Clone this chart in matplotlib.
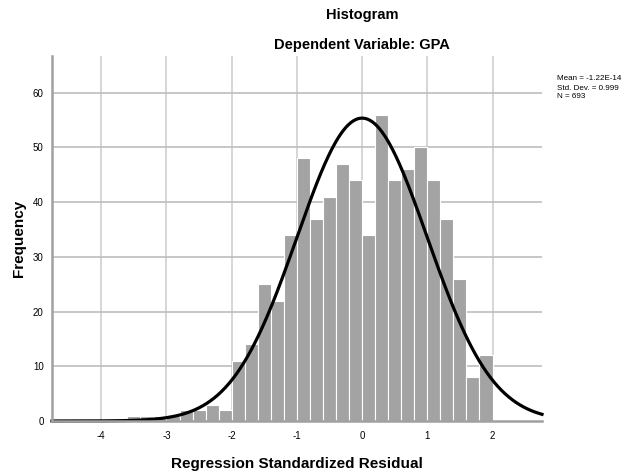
import numpy as np
import matplotlib
matplotlib.use('Agg')
import matplotlib.pyplot as plt

plt.rcParams['font.family'] = ['Liberation Sans', 'DejaVu Sans']
plt.rcParams['axes.unicode_minus'] = False

# residual histogram, bins of width 0.2 (left edges)
binLeft = [-3.6, -3.4, -3.2, -3.0, -2.8, -2.6, -2.4, -2.2,
           -2.0, -1.8, -1.6, -1.4, -1.2, -1.0, -0.8, -0.6, -0.4, -0.2,
           0.0, 0.2, 0.4, 0.6, 0.8, 1.0, 1.2, 1.4, 1.6, 1.8]
binCount = [1, 1, 1, 1, 2, 2, 3, 2,
            11, 14, 25, 22, 34, 48, 37, 41, 47, 44,
            34, 56, 44, 46, 50, 44, 37, 26, 8, 12]
binWidth = 0.2

# fitted normal stats
residMean = -1.22E-14
residSD = 0.999
residN = 693

xTicks = [-4, -3, -2, -1, 0, 1, 2]
yTicks = [0, 10, 20, 30, 40, 50, 60]

fig = plt.figure(figsize=(6.24, 4.76), dpi=100)
ax = fig.add_axes([52/624, 1 - 421/476, 490/624, 365/476])

ax.set_xlim(-4.756, 2.759)
ax.set_ylim(0, 66.7)

# grid behind everything
for xt in xTicks:
    ax.axvline(xt, color='#cfcfcf', lw=1.2, zorder=0)
for yt in yTicks[1:]:
    ax.axhline(yt, color='#bdbdbd', lw=1.2, zorder=0)

ax.bar(binLeft, binCount, width=binWidth, align='edge',
       color='#a3a3a3', edgecolor='white', linewidth=0.8, zorder=2)

# normal curve scaled to counts
xs = np.linspace(-4.756, 2.759, 400)
pdf = np.exp(-0.5 * ((xs - residMean) / residSD) ** 2) / (residSD * np.sqrt(2 * np.pi))
ax.plot(xs, pdf * residN * binWidth, color='black', lw=2.3, zorder=3, clip_on=False)

ax.set_xticks(xTicks)
ax.set_yticks(yTicks)
ax.tick_params(axis='both', length=0, labelsize=7)
ax.tick_params(axis='x', pad=7)
ax.tick_params(axis='y', pad=6)

for s in ['top', 'right']:
    ax.spines[s].set_visible(False)
for s in ['left', 'bottom']:
    ax.spines[s].set_color('#a0a0a0')
    ax.spines[s].set_linewidth(1.8)
    ax.spines[s].set_zorder(4)

ax.set_xlabel('Regression Standardized Residual', fontsize=11, fontweight='bold', labelpad=12)
ax.set_ylabel('Frequency', fontsize=11, fontweight='bold', labelpad=5)

fig.text(362/624, 1 - 15/476, 'Histogram', ha='center', va='center',
         fontsize=10.5, fontweight='bold')
fig.text(362/624, 1 - 45/476, 'Dependent Variable: GPA', ha='center', va='center',
         fontsize=10.5, fontweight='bold')

legendLines = ['Mean = -1.22E-14', 'Std. Dev. = 0.999', 'N = 693']
for i, txt in enumerate(legendLines):
    fig.text(557/624, 1 - (79 + 9 * i)/476, txt, ha='left', va='center', fontsize=5.8)

fig.savefig('out.png', dpi=100)
